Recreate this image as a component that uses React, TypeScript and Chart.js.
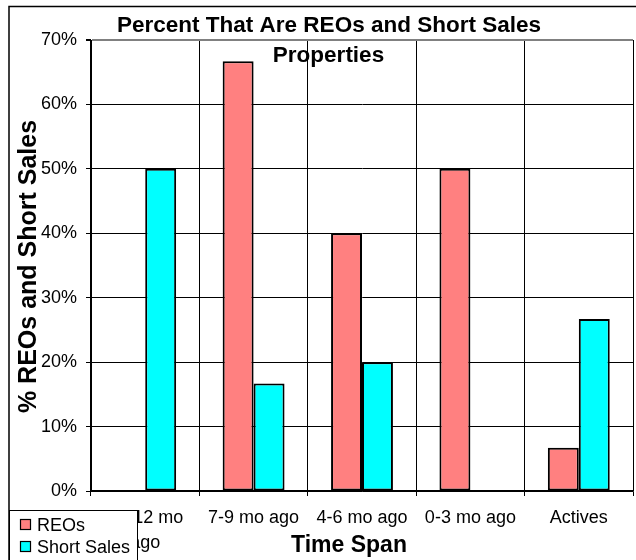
import React, { useEffect, useRef } from "react";
import { Chart, registerables } from "chart.js";

Chart.register(...registerables);

const chartTitleLines = ["Percent That Are REOs and Short Sales", "Properties"];
const xAxisTitle = "Time Span";
const yAxisTitle = "% REOs and Short Sales";
const categories = ["10-12 mo ago", "7-9 mo ago", "4-6 mo ago", "0-3 mo ago", "Actives"];
const seriesNames = ["REOs", "Short Sales"];
const reoValues = [0, 66.7, 40, 50, 6.7];
const shortSaleValues = [50, 16.7, 20, 0, 26.7];
const seriesColors = ["#FF8080", "#00FFFF"];
const yMin = 0;
const yMax = 70;
const yStep = 10;

const FONT = "'Liberation Sans', Arial, sans-serif";

const overlayPlugin = {
  id: "excelOverlay",
  afterDraw(chart: any) {
    const ctx = chart.ctx as CanvasRenderingContext2D;
    ctx.save();
    // outer chart border
    ctx.strokeStyle = "#000";
    ctx.lineWidth = 1.5;
    ctx.beginPath();
    ctx.moveTo(9, 600);
    ctx.lineTo(9, 6.5);
    ctx.lineTo(700, 6.5);
    ctx.stroke();

    // chart title
    ctx.fillStyle = "#000";
    ctx.textAlign = "center";
    ctx.textBaseline = "alphabetic";
    ctx.font = `bold 22.5px ${FONT}`;
    ctx.fillText(chartTitleLines[0], 329, 32.3);
    ctx.fillText(chartTitleLines[1], 328.5, 61.7);

    // x axis title
    ctx.font = `bold 23px ${FONT}`;
    ctx.fillText(xAxisTitle, 349, 552);

    // y axis title
    ctx.save();
    ctx.translate(35.5, 266.5);
    ctx.rotate(-Math.PI / 2);
    ctx.font = `bold 25px ${FONT}`;
    ctx.textAlign = "center";
    ctx.fillText(yAxisTitle, 0, 0);
    ctx.restore();

    // legend
    ctx.fillStyle = "#fff";
    ctx.fillRect(9.5, 510.5, 128, 60);
    ctx.strokeStyle = "#000";
    ctx.lineWidth = 1;
    ctx.strokeRect(9.5, 510.5, 128, 60);
    ctx.font = `18px ${FONT}`;
    ctx.textAlign = "left";
    const rows = [
      { sq: 519.5, base: 530.5 },
      { sq: 541.5, base: 553 },
    ];
    seriesNames.forEach((name, i) => {
      ctx.fillStyle = seriesColors[i];
      ctx.fillRect(20.5, rows[i].sq, 10, 10);
      ctx.strokeStyle = "#000";
      ctx.lineWidth = 1.2;
      ctx.strokeRect(20.5, rows[i].sq, 10, 10);
      ctx.fillStyle = "#000";
      ctx.fillText(name, 37, rows[i].base);
    });
    ctx.restore();
  },
};

export default function App() {
  const canvasRef = useRef<HTMLCanvasElement | null>(null);

  useEffect(() => {
    if (!canvasRef.current) return;
    Chart.defaults.font.family = FONT;
    Chart.defaults.color = "#000";
    const chart = new Chart(canvasRef.current, {
      type: "bar",
      data: {
        labels: categories,
        datasets: [
          {
            label: seriesNames[0],
            data: reoValues,
            backgroundColor: seriesColors[0],
            borderColor: "#000",
            borderWidth: 2,
            borderSkipped: false,
            categoryPercentage: 0.571,
            barPercentage: 1.0,
          },
          {
            label: seriesNames[1],
            data: shortSaleValues,
            backgroundColor: seriesColors[1],
            borderColor: "#000",
            borderWidth: 2,
            borderSkipped: false,
            categoryPercentage: 0.571,
            barPercentage: 1.0,
          },
        ],
      },
      options: {
        responsive: false,
        animation: false,
        devicePixelRatio: window.devicePixelRatio || 1,
        layout: { padding: { left: 0, top: 40, right: 3, bottom: 0 } },
        plugins: {
          legend: { display: false },
          title: { display: false },
          tooltip: { enabled: false },
        },
        scales: {
          x: {
            afterFit: (scale: any) => {
              scale.height = 69;
            },
            grid: {
              offset: true,
              drawTicks: true,
              tickLength: 5,
              tickColor: "#000",
              color: (c: any) => (c.index === categories.length ? "#808080" : "#000"),
              lineWidth: (c: any) => (c.index === categories.length ? 2 : 1),
            },
            border: { color: "#000", width: 1.5 },
            ticks: {
              autoSkip: false,
              maxRotation: 0,
              minRotation: 0,
              padding: 10,
              color: "#000",
              font: { size: 18, family: FONT, lineHeight: 1.39 },
              callback: function (this: any, value: any) {
                const label = String(this.getLabelForValue(value));
                if (label.length > 11) {
                  const idx = label.lastIndexOf(" ");
                  return [label.slice(0, idx), label.slice(idx + 1)];
                }
                return label;
              },
            },
          },
          y: {
            min: yMin,
            max: yMax,
            afterFit: (scale: any) => {
              scale.width = 91;
            },
            grid: {
              drawTicks: true,
              tickLength: 5,
              tickColor: "#000",
              color: (c: any) => (c.tick && c.tick.value === yMax ? "#808080" : "#000"),
              lineWidth: (c: any) => (c.tick && c.tick.value === yMax ? 2 : 1),
            },
            border: { color: "#000", width: 1 },
            ticks: {
              stepSize: yStep,
              padding: 9,
              color: "#000",
              font: { size: 18, family: FONT },
              callback: (v: any) => `${v}%`,
            },
          },
        },
      },
      plugins: [overlayPlugin],
    });
    return () => chart.destroy();
  }, []);

  return (
    <div style={{ position: "absolute", left: 0, top: 0, width: 636, height: 560, background: "#fff" }}>
      <canvas ref={canvasRef} width={636} height={560} style={{ width: 636, height: 560, display: "block" }} />
    </div>
  );
}
